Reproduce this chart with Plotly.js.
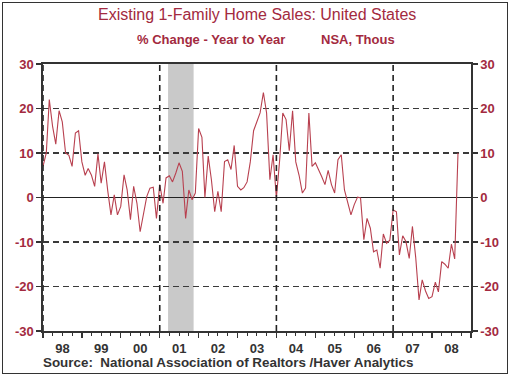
<!DOCTYPE html>
<html>
<head>
<meta charset="utf-8">
<script src="https://cdn.plot.ly/plotly-3.0.1.min.js"></script>
<style>
  html, body { margin: 0; padding: 0; background: #fff; }
  #wrap { position: relative; width: 510px; height: 377px; }
  #chart { position: absolute; left: 0; top: 0; width: 510px; height: 377px; }
  #frame { position: absolute; left: 2px; top: 2px; width: 504px; height: 370px; border: 1.5px solid #333; pointer-events: none; }
</style>
</head>
<body>
<div id="wrap">
  <div id="chart"></div>
  <div id="frame"></div>
</div>
<script>
// Monthly year-over-year % change, Jan 1998 .. Sep 2008
const startYear = 1998;
const values1998 = [7, 10, 22, 16, 12, 19.5, 17, 10, 9.5, 7, 14.5, 15];
const values1999 = [8, 5, 6.5, 5, 2.5, 9.8, 3.2, 8, 1.5, -3.9, 0.6, -3.9];
const values2000 = [-2, 5.1, 1.7, -5, 2.5, -1.3, -7.7, -3.5, 0.2, 2.1, 2.3, -4.7];
const values2001 = [2.9, -1.3, 4.4, 4.9, 3.5, 5.5, 7.8, 5.9, -4.7, 1.7, -0.5, 1];
const values2002 = [15.5, 13.5, 0, 9.3, 4, -3.2, 1.4, -3.2, 8.1, 8.5, 6.3, 11.7];
const values2003 = [2.5, 1.7, 2.2, 3.5, 8, 15, 17, 19, 23.6, 19, 4, 9.6];
const values2004 = [-0.1, 8.5, 19, 17.5, 10.5, 19.5, 8, 5, 1, 2.1, 19, 7];
const values2005 = [7.8, 6.3, 4.7, 2.9, 6.1, 2.9, 1, 8.5, 9.6, 1.7, -1.3, -3.9];
const values2006 = [-1.6, 0.1, -0.1, -9.5, -4.7, -6.9, -12.2, -11.8, -15.9, -8.2, -10.3, -9.6];
const values2007 = [-2.8, -3.2, -12.9, -8.6, -9.9, -13.7, -6.5, -13.5, -23, -18.5, -21, -22.7];
const values2008 = [-22.3, -19, -21.2, -14.4, -15, -15.9, -10.5, -13.8, 10];

const yearTickLabels = ['98', '99', '00', '01', '02', '03', '04', '05', '06', '07', '08'];
const yTicks = [30, 20, 10, 0, -10, -20, -30];
const verticalRefDates = ['1998-01-01', '2001-01-01', '2004-01-01', '2007-01-01'];
const recession = { start: '2001-03-20', end: '2001-11-15' };

const series = [].concat(values1998, values1999, values2000, values2001, values2002,
  values2003, values2004, values2005, values2006, values2007, values2008);
const dates = series.map((v, i) => {
  const y = startYear + Math.floor(i / 12);
  const m = (i % 12) + 1;
  return y + '-' + (m < 10 ? '0' + m : m) + '-01';
});

const red = '#a32a40';
const lineRed = '#b8404f';
const fontFam = 'Liberation Sans, Arial, sans-serif';

const traces = [
  { x: dates, y: series, type: 'scatter', mode: 'lines',
    line: { color: lineRed, width: 1.1 }, hoverinfo: 'skip', xaxis: 'x', yaxis: 'y' },
  { x: dates, y: series, type: 'scatter', mode: 'lines',
    line: { color: 'rgba(0,0,0,0)', width: 0 }, hoverinfo: 'skip', xaxis: 'x', yaxis: 'y2', showlegend: false }
];

const shapes = [
  { type: 'rect', xref: 'x', yref: 'paper', x0: recession.start, x1: recession.end, y0: 0, y1: 1,
    fillcolor: '#c9c9c9', line: { width: 0 }, layer: 'below' }
].concat(verticalRefDates.map(d => ({
  type: 'line', xref: 'x', yref: 'paper', x0: d, x1: d, y0: 0, y1: 1,
  line: { color: '#222', width: 1.6, dash: '6px,4px' }, layer: 'above'
})));

const layout = {
  width: 510, height: 377,
  margin: { l: 43, r: 39, t: 64, b: 46 },
  paper_bgcolor: 'rgba(0,0,0,0)', plot_bgcolor: '#fff',
  showlegend: false,
  font: { family: fontFam },
  xaxis: {
    type: 'date', range: ['1998-01-01', '2009-01-01'],
    dtick: 'M12', tick0: '1998-01-01', tickformat: '%y', ticklabelmode: 'period',
    ticks: 'outside', ticklen: 5, tickwidth: 1.3, tickcolor: '#333',
    minor: { dtick: 'M3', ticks: 'outside', ticklen: 3, tickwidth: 1, tickcolor: '#333', showgrid: false },
    showgrid: false, zeroline: false,
    showline: true, linecolor: '#333', linewidth: 1.6, mirror: true,
    tickfont: { size: 13, color: '#333', family: fontFam, weight: 'bold' },
    fixedrange: true
  },
  yaxis: {
    range: [-30, 30], tickvals: yTicks, ticktext: yTicks.map(String),
    ticks: 'outside', ticklen: 5, tickwidth: 1.3, tickcolor: '#333',
    showgrid: true, gridcolor: '#3a3a3a', gridwidth: 1.1, griddash: '6px,4px',
    zeroline: true, zerolinecolor: '#222', zerolinewidth: 1.4,
    showline: true, linecolor: '#333', linewidth: 1.6,
    tickfont: { size: 13, color: red, family: fontFam, weight: 'bold' },
    fixedrange: true
  },
  yaxis2: {
    overlaying: 'y', side: 'right', range: [-30, 30], tickvals: yTicks, ticktext: yTicks.map(String),
    ticks: 'outside', ticklen: 5, tickwidth: 1.3, tickcolor: '#333',
    showgrid: false, zeroline: false,
    showline: true, linecolor: '#333', linewidth: 1.6,
    tickfont: { size: 13, color: red, family: fontFam, weight: 'bold' },
    fixedrange: true
  },
  shapes: shapes,
  annotations: [
    { text: 'Existing 1-Family Home Sales: United States', xref: 'paper', yref: 'paper',
      x: 0.5, y: 1, yshift: 50, xanchor: 'center', yanchor: 'middle', showarrow: false,
      font: { size: 16, color: red, family: fontFam } },
    { text: '% Change - Year to Year', xref: 'paper', yref: 'paper',
      x: 0.5, y: 1, xshift: -46, yshift: 25, xanchor: 'center', yanchor: 'middle', showarrow: false,
      font: { size: 13, color: red, family: fontFam, weight: 'bold' } },
    { text: 'NSA, Thous', xref: 'paper', yref: 'paper',
      x: 0.5, y: 1, xshift: 101, yshift: 25, xanchor: 'center', yanchor: 'middle', showarrow: false,
      font: { size: 13, color: red, family: fontFam, weight: 'bold' } },
    { text: 'Source:  National Association of Realtors /Haver Analytics', xref: 'paper', yref: 'paper',
      x: 0, y: 0, xshift: -2, yshift: -31, xanchor: 'left', yanchor: 'middle', showarrow: false,
      font: { size: 13.4, color: '#333', family: fontFam, weight: 'bold' } }
  ]
};

Plotly.newPlot('chart', traces, layout, { staticPlot: true, displayModeBar: false });
</script>
</body>
</html>
